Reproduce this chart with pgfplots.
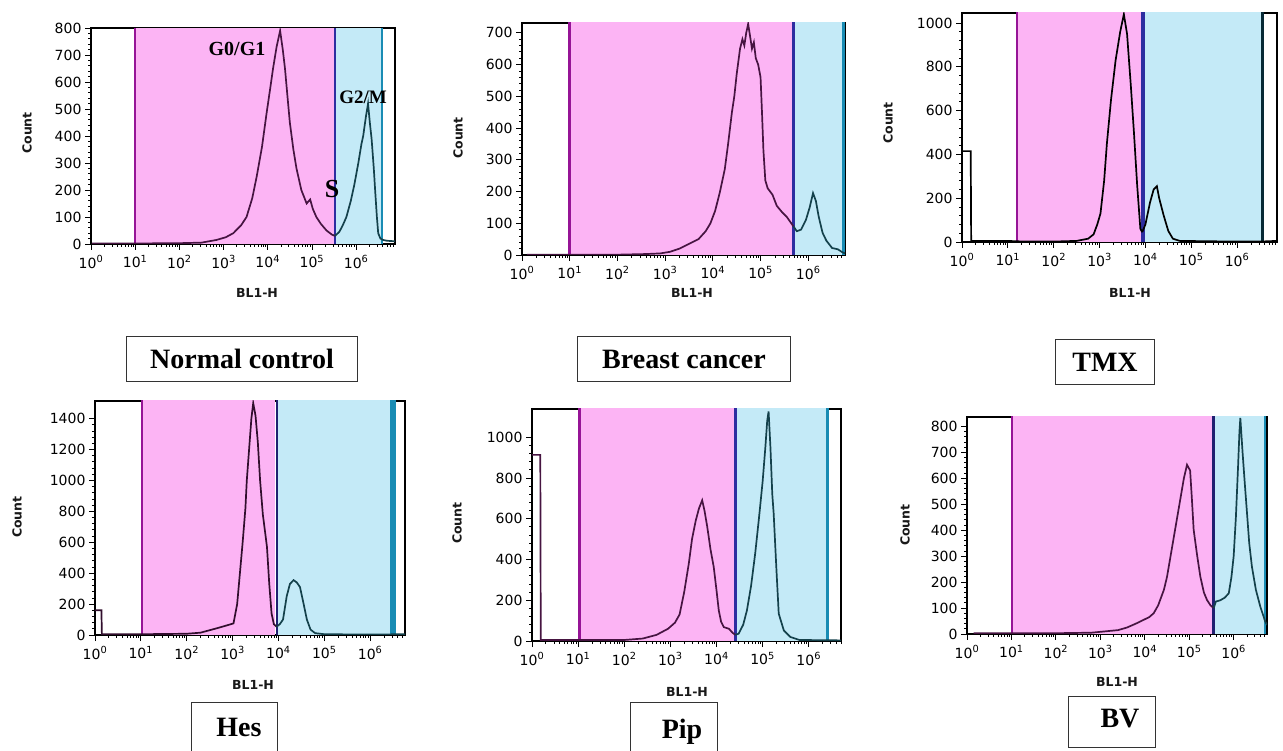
\documentclass[border=0pt]{standalone}
\usepackage{pgfplots}
\pgfplotsset{compat=1.18}
\usepackage{fontspec}
\newfontfamily\tickfont{DejaVu Sans}
\newfontfamily\serifb{Liberation Serif}

\definecolor{pinkfill}{RGB}{252,180,244}
\definecolor{bluefill}{RGB}{196,234,247}
\definecolor{gatepk}{RGB}{150,20,150}
\definecolor{gatemid}{RGB}{45,45,160}
\definecolor{gatebl}{RGB}{25,140,180}
\definecolor{cpk}{RGB}{70,20,65}
\definecolor{cbl}{RGB}{20,65,75}

% minor ticks of the log axis (x is log10 of BL1-H)
\def\mlist{0}
\foreach \k in {0,...,6}{\foreach \m in {2,...,9}{\pgfmathparse{\k+log10(\m)}\xdef\mlist{\mlist,\pgfmathresult}}}

\pgfplotsset{flowax/.style={
  scale only axis,
  xmin=0, ymin=0,
  axis line style={line width=1.1pt},
  tick align=outside,
  xtick pos=bottom, ytick pos=left,
  xtick={0,...,6},
  xticklabels={10\textsuperscript{0},10\textsuperscript{1},10\textsuperscript{2},10\textsuperscript{3},10\textsuperscript{4},10\textsuperscript{5},10\textsuperscript{6}},
  minor xtick/.expanded={\mlist},
  minor y tick num=4,
  major tick length=6pt, minor tick length=3pt,
  every tick/.style={black, line width=0.8pt},
  tick label style={font=\tickfont\fontsize{14}{15}\selectfont, text=black},
  /pgf/number format/assume math mode=true,
  /pgf/number format/1000 sep={},
  xticklabel style={yshift=-2pt},
}}
\tikzset{
  axlab/.style={font=\tickfont\bfseries\fontsize{12.5}{13}\selectfont, text=black!90},
  boxlab/.style={font=\serifb\bfseries\fontsize{28}{28}\selectfont},
  curve/.style={line width=1.7pt},
}

\begin{document}
\begin{tikzpicture}
\useasboundingbox (0pt,0pt) rectangle (1283pt,750pt);
\clip (0pt,0pt) rectangle (1283pt,750pt);

% ---------------- Normal control
\begin{axis}[flowax, at={(91pt,506pt)}, anchor=south west,
  width=304pt, height=216pt, xmax=6.88, ymax=800,
  ytick={0,100,...,800}]
\addplot[draw=none, fill=pinkfill] coordinates {(1,0) (1,5000) (5.52,5000) (5.52,0)} -- cycle;
\addplot[draw=none, fill=bluefill] coordinates {(5.52,0) (5.52,5000) (6.58,5000) (6.58,0)} -- cycle;
\addplot[gatepk, line width=2.5pt] coordinates {(1,0) (1,5000)};
\addplot[gatemid, line width=2.5pt] coordinates {(5.52,0) (5.52,5000)};
\addplot[gatebl, line width=2.5pt] coordinates {(6.58,0) (6.58,5000)};
\addplot[cpk, curve] coordinates {(0.02,2) (1,2) (2,3) (2.5,5) (2.84,15) (3.05,25) (3.22,40) (3.4,70) (3.52,100) (3.65,170) (3.75,250) (3.87,360) (3.97,480) (4.05,570) (4.12,650) (4.2,730) (4.28,790) (4.34,720) (4.39,650) (4.45,540) (4.5,450) (4.58,350) (4.65,280) (4.76,200) (4.88,150) (4.96,165) (5.02,130) (5.1,100) (5.2,75) (5.33,50) (5.45,35) (5.52,30)};
\addplot[cbl, curve] coordinates {(5.52,30) (5.62,45) (5.7,70) (5.78,100) (5.88,160) (5.96,220) (6.05,300) (6.12,370) (6.16,400) (6.22,470) (6.27,520) (6.31,450) (6.35,390) (6.4,280) (6.43,200) (6.47,100) (6.5,40) (6.55,20) (6.61,15) (6.7,12) (6.88,10)};
\end{axis}
\node[font=\serifb\bfseries\fontsize{20}{20}\selectfont] at (237pt,701pt) {G0/G1};
\node[font=\serifb\bfseries\fontsize{19}{19}\selectfont] at (363pt,653pt) {G2/M};
\node[font=\serifb\bfseries\fontsize{26}{26}\selectfont] at (332pt,561pt) {S};
\node[axlab, rotate=90] at (27pt,617pt) {Count};
\node[axlab] at (257pt,457pt) {BL1-H};
\node[boxlab, draw=black!80, line width=1pt, inner xsep=24pt, minimum height=45pt] at (242pt,391pt) {Normal control};

% ---------------- Breast cancer
\begin{axis}[flowax, at={(522pt,495pt)}, anchor=south west,
  width=323pt, height=232pt, xmax=6.77, ymax=731,
  ytick={0,100,...,700}]
\addplot[draw=none, fill=pinkfill] coordinates {(1,0) (1,5000) (5.69,5000) (5.69,0)} -- cycle;
\addplot[draw=none, fill=bluefill] coordinates {(5.69,0) (5.69,5000) (6.74,5000) (6.74,0)} -- cycle;
\addplot[gatepk, line width=2.5pt] coordinates {(1,0) (1,5000)};
\addplot[gatemid, line width=2.5pt] coordinates {(5.69,0) (5.69,5000)};
\addplot[gatebl, line width=2.5pt] coordinates {(6.74,0) (6.74,5000)};
\addplot[cpk, curve] coordinates {(0.1,1) (1,1) (2,1) (2.6,3) (2.9,5) (3.1,10) (3.3,20) (3.5,35) (3.7,50) (3.85,75) (3.95,100) (4.05,140) (4.15,200) (4.25,270) (4.32,350) (4.4,450) (4.45,500) (4.5,570) (4.57,650) (4.62,680) (4.66,660) (4.7,700) (4.74,728) (4.78,690) (4.82,650) (4.86,670) (4.9,620) (4.95,600) (5.0,560) (5.03,450) (5.06,330) (5.1,235) (5.15,210) (5.25,190) (5.34,155) (5.45,135) (5.55,120) (5.62,105) (5.69,90)};
\addplot[cbl, curve] coordinates {(5.69,90) (5.76,75) (5.85,80) (5.95,110) (6.03,150) (6.1,195) (6.16,170) (6.22,120) (6.3,70) (6.38,45) (6.5,22) (6.62,18) (6.7,10) (6.77,5)};
\end{axis}
\node[axlab, rotate=90] at (458pt,612pt) {Count};
\node[axlab] at (692pt,457pt) {BL1-H};
\node[boxlab, draw=black!80, line width=1pt, inner xsep=25pt, minimum height=45pt] at (684pt,391pt) {Breast cancer};

% ---------------- TMX
\begin{axis}[flowax, at={(962pt,508pt)}, anchor=south west,
  width=315pt, height=229pt, xmax=6.87, ymax=1046,
  ytick={0,200,...,1000}]
\addplot[draw=none, fill=pinkfill] coordinates {(1.2,0) (1.2,5000) (3.93,5000) (3.93,0)} -- cycle;
\addplot[draw=none, fill=bluefill] coordinates {(3.97,0) (3.97,5000) (6.55,5000) (6.55,0)} -- cycle;
\addplot[gatepk, line width=2.5pt] coordinates {(1.2,0) (1.2,5000)};
\addplot[gatemid, line width=3.5pt] coordinates {(3.95,0) (3.95,5000)};
\addplot[black!70!gatebl, line width=2.5pt] coordinates {(6.55,0) (6.55,5000)};
\addplot[black, curve] coordinates {(0,415) (0.19,415) (0.2,5) (1,5) (1.2,3) (2,2) (2.5,5) (2.75,15) (2.87,35) (2.95,80) (3.02,130) (3.1,280) (3.16,450) (3.25,650) (3.35,830) (3.45,960) (3.53,1040) (3.6,950) (3.68,720) (3.75,500) (3.82,260) (3.89,60) (3.93,45)};
\addplot[black, curve] coordinates {(3.93,45) (4.0,80) (4.1,180) (4.18,240) (4.25,255) (4.3,200) (4.4,120) (4.5,50) (4.6,15) (4.75,5) (5.5,3) (6.5,2) (6.87,5)};
\end{axis}
\node[axlab, rotate=90] at (888pt,627pt) {Count};
\node[axlab] at (1130pt,457pt) {BL1-H};
\node[boxlab, draw=black!80, line width=1pt, inner xsep=17pt, minimum height=45pt] at (1105pt,388pt) {TMX};

% ---------------- Hes
\begin{axis}[flowax, at={(95pt,115pt)}, anchor=south west,
  width=310pt, height=234pt, xmax=6.76, ymax=1514,
  ytick={0,200,...,1400}]
\addplot[draw=none, fill=pinkfill] coordinates {(1.02,0) (1.02,5000) (3.93,5000) (3.93,0)} -- cycle;
\addplot[draw=none, fill=bluefill] coordinates {(3.96,0) (3.96,5000) (6.51,5000) (6.51,0)} -- cycle;
\addplot[gatepk, line width=2.5pt] coordinates {(1.02,0) (1.02,5000)};
\addplot[gatemid!70!black, line width=2.5pt] coordinates {(3.97,0) (3.97,5000)};
\addplot[gatebl, line width=2.5pt] coordinates {(6.46,0) (6.46,5000)};
\addplot[gatebl, line width=2.5pt] coordinates {(6.53,0) (6.53,5000)};
\addplot[cpk!70!black, curve] coordinates {(0,160) (0.14,160) (0.15,5) (1,5) (2,8) (2.3,15) (2.65,43) (2.85,60) (3.02,75) (3.1,200) (3.16,400) (3.22,600) (3.28,820) (3.31,1000) (3.36,1200) (3.41,1400) (3.45,1500) (3.5,1420) (3.55,1250) (3.6,1000) (3.66,780) (3.75,570) (3.8,330) (3.85,140) (3.9,70) (3.96,54)};
\addplot[cbl, curve] coordinates {(3.96,54) (4.03,70) (4.1,100) (4.18,250) (4.25,330) (4.33,355) (4.4,340) (4.47,310) (4.55,200) (4.62,100) (4.7,35) (4.8,12) (5.0,5) (6.0,3) (6.76,5)};
\end{axis}
\node[axlab, rotate=90] at (17pt,233pt) {Count};
\node[axlab] at (253pt,65pt) {BL1-H};
\draw[black!80, line width=1pt] (191pt,47pt) rectangle (277pt,-20pt);
\node[boxlab, anchor=base] at (239pt,13pt) {Hes};

% ---------------- Pip
\begin{axis}[flowax, at={(532pt,109pt)}, anchor=south west,
  width=309pt, height=232pt, xmax=6.70, ymax=1138,
  ytick={0,200,...,1000}]
\addplot[draw=none, fill=pinkfill] coordinates {(1.03,0) (1.03,5000) (4.41,5000) (4.41,0)} -- cycle;
\addplot[draw=none, fill=bluefill] coordinates {(4.41,0) (4.41,5000) (6.41,5000) (6.41,0)} -- cycle;
\addplot[gatepk, line width=2.5pt] coordinates {(1.03,0) (1.03,5000)};
\addplot[gatemid, line width=2.5pt] coordinates {(4.41,0) (4.41,5000)};
\addplot[gatebl, line width=2.5pt] coordinates {(6.41,0) (6.41,5000)};
\addplot[cpk, curve] coordinates {(0,913) (0.18,913) (0.19,5) (1,5) (2,5) (2.4,12) (2.7,30) (2.95,60) (3.1,90) (3.2,130) (3.3,240) (3.4,380) (3.47,500) (3.55,590) (3.62,650) (3.69,690) (3.74,640) (3.8,560) (3.87,450) (3.94,364) (4.0,250) (4.05,150) (4.1,95) (4.16,68) (4.27,60) (4.35,40) (4.41,30)};
\addplot[cbl, curve] coordinates {(4.41,30) (4.48,36) (4.58,80) (4.66,150) (4.75,270) (4.84,430) (4.92,600) (5.0,780) (5.06,950) (5.1,1080) (5.13,1126) (5.17,950) (5.21,720) (5.24,626) (5.3,350) (5.35,134) (5.46,52) (5.6,20) (5.8,5) (6.7,3)};
\end{axis}
\node[axlab, rotate=90] at (457pt,227pt) {Count};
\node[axlab] at (687pt,58pt) {BL1-H};
\draw[black!80, line width=1pt] (630pt,47pt) rectangle (717pt,-20pt);
\node[boxlab, anchor=base] at (682pt,12pt) {Pip};

% ---------------- BV
\begin{axis}[flowax, at={(967pt,116pt)}, anchor=south west,
  width=300pt, height=217pt, xmax=6.75, ymax=836,
  ytick={0,100,...,800}]
\addplot[draw=none, fill=pinkfill] coordinates {(1.01,0) (1.01,5000) (5.55,5000) (5.55,0)} -- cycle;
\addplot[draw=none, fill=bluefill] coordinates {(5.55,0) (5.55,5000) (6.71,5000) (6.71,0)} -- cycle;
\addplot[gatepk, line width=2.5pt] coordinates {(1.01,0) (1.01,5000)};
\addplot[gatemid!70!black, line width=2.5pt] coordinates {(5.55,0) (5.55,5000)};
\addplot[gatebl, line width=2.5pt] coordinates {(6.71,0) (6.71,5000)};
\addplot[cpk, curve] coordinates {(0.15,3) (1,3) (2,3) (2.8,5) (3.1,10) (3.4,15) (3.6,25) (3.8,40) (3.98,55) (4.1,65) (4.2,80) (4.3,110) (4.43,170) (4.5,220) (4.58,300) (4.65,370) (4.73,450) (4.8,520) (4.88,600) (4.95,652) (5.02,630) (5.06,520) (5.1,401) (5.18,300) (5.25,221) (5.33,160) (5.4,131) (5.48,110) (5.55,100)};
\addplot[cbl, curve] coordinates {(5.55,100) (5.6,125) (5.7,130) (5.8,140) (5.89,157) (5.95,220) (6.0,300) (6.05,450) (6.1,650) (6.13,780) (6.15,832) (6.2,700) (6.25,580) (6.3,466) (6.35,350) (6.41,260) (6.5,170) (6.6,105) (6.71,48) (6.75,35)};
\end{axis}
\node[axlab, rotate=90] at (905pt,225pt) {Count};
\node[axlab] at (1117pt,68pt) {BL1-H};
\draw[black!80, line width=1pt] (1068pt,53pt) rectangle (1155pt,3pt);
\node[boxlab, anchor=base] at (1120pt,22pt) {BV};
\end{tikzpicture}
\end{document}
